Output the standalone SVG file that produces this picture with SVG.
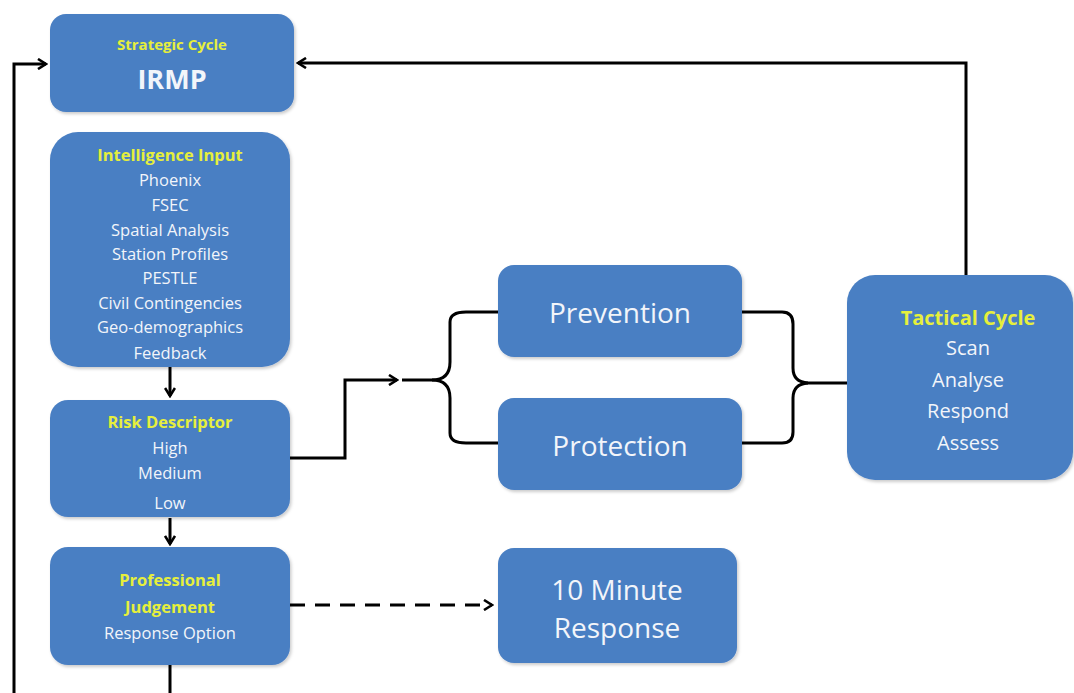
<svg xmlns="http://www.w3.org/2000/svg" width="1074" height="693" viewBox="0 0 1074 693">
  <defs>
    <marker id="arr" viewBox="0 0 12 12" refX="10" refY="6" markerWidth="12" markerHeight="12" markerUnits="userSpaceOnUse" orient="auto">
      <path d="M2,1 L10,6 L2,11" fill="none" stroke="#000" stroke-width="2.6"/>
    </marker>
    <filter id="sh" x="-10%" y="-10%" width="125%" height="125%">
      <feDropShadow dx="1.5" dy="2" stdDeviation="1.5" flood-color="#000" flood-opacity="0.2"/>
    </filter>
  </defs>
  <style>
    .box { fill: #4a7fc3; filter: url(#sh); }
    text { font-family: "Open Sans", Lato, "Liberation Sans", sans-serif; text-anchor: middle; fill: #f2f5fa; }
    .hd { fill: #e6ef3c; font-weight: bold; }
    .s { font-size: 16.5px; }
    .m { font-size: 20px; }
    .l { font-size: 28px; }
    .ln { fill: none; stroke: #000; stroke-width: 3; }
  </style>
  <rect width="1074" height="693" fill="#ffffff"/>

  <g id="connectors">
    <path class="ln" d="M14,693 V64 H46" marker-end="url(#arr)"/>
    <path class="ln" d="M966,276 V63 H298" marker-end="url(#arr)"/>
    <path class="ln" d="M170,366 V396" marker-end="url(#arr)"/>
    <path class="ln" d="M170,518 V544" marker-end="url(#arr)"/>
    <path class="ln" d="M170,664 V693"/>
    <path class="ln" d="M290,458 H345 V380 H397" marker-end="url(#arr)"/>
    <path class="ln" d="M402,380 H432 Q450,380 450,362 V322 Q450,312 466,312 H498"/>
    <path class="ln" d="M432,380 Q450,380 450,398 V433 Q450,443 466,443 H498"/>
    <path class="ln" d="M742,312 H782 Q793,312 793,324 V368 Q793,382 808,383 H847"/>
    <path class="ln" d="M808,383 Q793,384 793,398 V432 Q793,443 782,443 H742"/>
    <path class="ln" d="M290,605 H492" stroke-dasharray="15,10" marker-end="url(#arr)"/>
  </g>

  <g id="irmp">
    <rect class="box" x="50" y="14" width="244" height="98" rx="16"/>
    <text class="hd" x="172" y="50" font-size="15">Strategic Cycle</text>
    <text x="172" y="89" font-size="27" font-weight="bold">IRMP</text>
  </g>

  <g id="intelligence">
    <rect class="box" x="50" y="132" width="240" height="235" rx="28"/>
    <text class="hd s" x="170" y="161">Intelligence Input</text>
    <text class="s" x="170" y="186">Phoenix</text>
    <text class="s" x="170" y="211">FSEC</text>
    <text class="s" x="170" y="236">Spatial Analysis</text>
    <text class="s" x="170" y="260">Station Profiles</text>
    <text class="s" x="170" y="284">PESTLE</text>
    <text class="s" x="170" y="309">Civil Contingencies</text>
    <text class="s" x="170" y="333">Geo-demographics</text>
    <text class="s" x="170" y="359">Feedback</text>
  </g>

  <g id="risk">
    <rect class="box" x="50" y="400" width="240" height="117" rx="18"/>
    <text class="hd s" x="170" y="428">Risk Descriptor</text>
    <text class="s" x="170" y="454">High</text>
    <text class="s" x="170" y="479">Medium</text>
    <text class="s" x="170" y="509">Low</text>
  </g>

  <g id="professional">
    <rect class="box" x="50" y="547" width="240" height="118" rx="18"/>
    <text class="hd s" x="170" y="586">Professional</text>
    <text class="hd s" x="170" y="613">Judgement</text>
    <text class="s" x="170" y="639">Response Option</text>
  </g>

  <g id="prevention">
    <rect class="box" x="498" y="265" width="244" height="92" rx="16"/>
    <text class="l" x="620" y="323">Prevention</text>
  </g>

  <g id="protection">
    <rect class="box" x="498" y="398" width="244" height="92" rx="16"/>
    <text class="l" x="620" y="456">Protection</text>
  </g>

  <g id="tactical">
    <rect class="box" x="847" y="275" width="226" height="205" rx="28"/>
    <text class="hd m" x="968" y="325">Tactical Cycle</text>
    <text class="m" x="968" y="355">Scan</text>
    <text class="m" x="968" y="387">Analyse</text>
    <text class="m" x="968" y="418">Respond</text>
    <text class="m" x="968" y="450">Assess</text>
  </g>

  <g id="tenminute">
    <rect class="box" x="498" y="548" width="239" height="115" rx="16"/>
    <text class="l" x="617" y="600">10 Minute</text>
    <text class="l" x="617" y="638">Response</text>
  </g>
</svg>
